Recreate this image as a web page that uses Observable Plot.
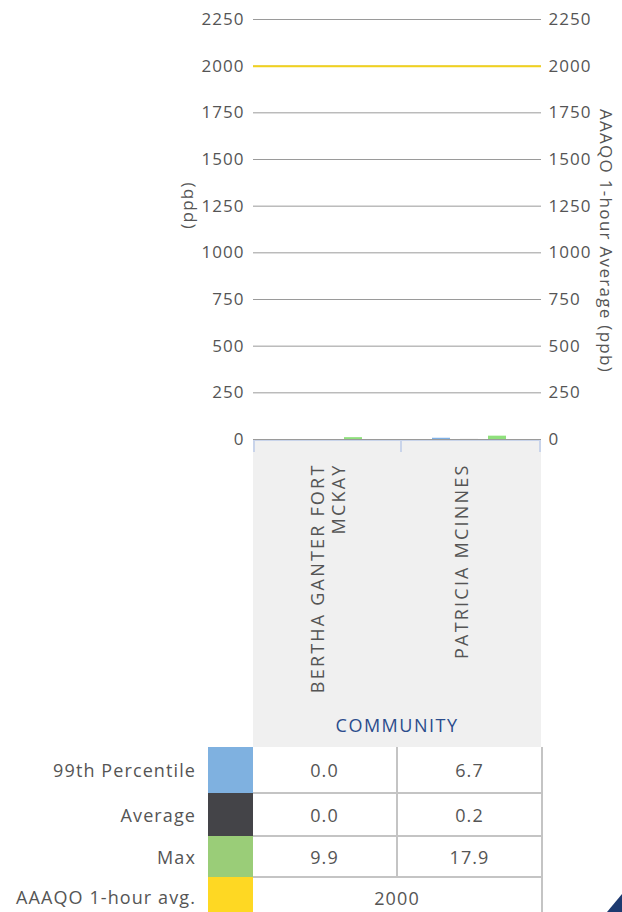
<!DOCTYPE html>
<html>
<head>
<meta charset="utf-8">
<script src="https://cdn.jsdelivr.net/npm/d3@7"></script>
<script src="https://cdn.jsdelivr.net/npm/@observablehq/plot@0.6"></script>
<style>
  html, body { margin: 0; padding: 0; background: #fff; }
  #wrap { position: relative; width: 622px; height: 912px; overflow: hidden; font-family: "Open Sans", sans-serif; color: #555; }
  #chart { position: absolute; left: 0; top: 0; }
  #catbox { position: absolute; left: 253px; top: 441px; width: 288px; height: 306px; background: #f0f0f0; }
  #catline { position: absolute; left: 253px; top: 439px; width: 288px; height: 2px; background: #c9d4ea; }
  .vtick { position: absolute; top: 439px; width: 2px; height: 13px; background: #c9d4ea; }
  .title { position: absolute; white-space: nowrap; font-size: 17px; letter-spacing: 1.3px; color: #555; }
  #community { position: absolute; left: 253px; width: 288px; top: 713px; text-align: center; font-size: 18px; letter-spacing: 1.5px; color: #2b4c8c; }
  table { position: absolute; left: 0; top: 747px; border-collapse: collapse; font-size: 18px; letter-spacing: 1.1px; color: #555; }
  td { padding: 0; }
  td.lab { width: 196px; padding-right: 12px; text-align: right; }
  td.sw { width: 45px; }
  td.val { width: 143px; text-align: center; border-bottom: 2px solid #c4c4c4; border-right: 2px solid #c4c4c4; }
  #tri { position: absolute; right: 0; bottom: 0; width: 0; height: 0; border-left: 15px solid transparent; border-bottom: 18px solid #1d3a70; }
</style>
</head>
<body>
<div id="wrap">
  <div id="catbox"></div>
  <div id="catline"></div>
  <div class="vtick" style="left:253px"></div>
  <div class="vtick" style="left:400px"></div>
  <div class="vtick" style="left:539px"></div>
  <div id="chart"></div>
  <div class="title" id="ltitle">(ppb)</div>
  <div class="title" id="rtitle">AAAQO 1-hour Average (ppb)</div>
  <div id="community">COMMUNITY</div>
  <table id="tbl"></table>
  <div id="tri"></div>
</div>
<script>
// ---- data ----
const communities = ["BERTHA GANTER FORT MCKAY", "PATRICIA MCINNES"];
const communityLabels = ["BERTHA GANTER FORT\nMCKAY", "PATRICIA MCINNES"];
const seriesNames = ["99th Percentile", "Average", "Max"];
const p99Values = [0.0, 6.7];
const averageValues = [0.0, 0.2];
const maxValues = [9.9, 17.9];
const aaaqoLimit = 2000;
const aaaqoLabel = "AAAQO 1-hour avg.";
const yTicks = [0, 250, 500, 750, 1000, 1250, 1500, 1750, 2000, 2250];

const barColors = ["#7eb0e6", "#434347", "#8fe07c"];
const swatchColors = ["#7fb1e0", "#444448", "#9acd78", "#fed823"];

// ---- build table for plot ----
const seriesValues = [p99Values, averageValues, maxValues];
const rows = [];
communities.forEach((c, i) => {
  seriesNames.forEach((s, j) => rows.push({community: c, series: s, value: seriesValues[j][i]}));
});

const font = "Open Sans, sans-serif";
const chart = Plot.plot({
  width: 622,
  height: 747,
  marginLeft: 253,
  marginRight: 81,
  marginTop: 19,
  marginBottom: 308,
  style: {fontFamily: font, fontSize: "17px", color: "#555", background: "transparent"},
  fx: {domain: communities, padding: 0, axis: null},
  x: {domain: seriesNames, paddingInner: 0.37, paddingOuter: 1.2, axis: null},
  y: {domain: [0, 2250], axis: null},
  color: {domain: seriesNames, range: barColors},
  marks: [
    Plot.gridY(yTicks, {stroke: "#9a9a9a", strokeOpacity: 1}),
    Plot.axisY(yTicks, {anchor: "left", tickSize: 0, tickPadding: 9, tickFormat: d => String(d), label: null, fill: "#555", fontSize: 17}),
    Plot.axisY(yTicks, {anchor: "right", tickSize: 0, tickPadding: 7, tickFormat: d => String(d), label: null, fill: "#555", fontSize: 17}),
    Plot.ruleY([aaaqoLimit], {stroke: "#f2d21c", strokeWidth: 2}),
    Plot.barY(rows, {fx: "community", x: "series", y: "value", fill: "series"}),
    Plot.text(communities, {
      fx: d => d,
      text: (d, i) => communityLabels[i],
      frameAnchor: "bottom",
      dx: -17,
      dy: 24,
      rotate: -90,
      textAnchor: "end",
      lineAnchor: "top",
      lineHeight: 1.2,
      fill: "#555",
      fontSize: 18
    })
  ]
});
d3.select(chart).selectAll("g[aria-label='y-axis tick label'] text").style("letter-spacing", "1px");
d3.select(chart).selectAll("g[aria-label='text'] text").style("letter-spacing", "2.2px");
document.getElementById("chart").appendChild(chart);

// axis titles positioned beside the chart
const lt = document.getElementById("ltitle");
lt.style.left = "186px"; lt.style.top = "205px";
lt.style.transform = "translate(-50%,-50%) rotate(-90deg)";
const rt = document.getElementById("rtitle");
rt.style.left = "606px"; rt.style.top = "241px";
rt.style.transform = "translate(-50%,-50%) rotate(90deg)";

// ---- data table ----
const tbl = document.getElementById("tbl");
const heights = [46, 43, 41, 40];
seriesNames.forEach((s, j) => {
  const tr = document.createElement("tr");
  tr.style.height = heights[j] + "px";
  tr.innerHTML = `<td class="lab">${s}</td><td class="sw" style="background:${swatchColors[j]}"></td>` +
    seriesValues[j].map(v => `<td class="val">${v.toFixed(1)}</td>`).join("");
  tbl.appendChild(tr);
});
const tr = document.createElement("tr");
tr.style.height = heights[3] + "px";
tr.innerHTML = `<td class="lab">${aaaqoLabel}</td><td class="sw" style="background:${swatchColors[3]}"></td><td class="val" colspan="2" style="border-bottom:none">${aaaqoLimit}</td>`;
tbl.appendChild(tr);
</script>
</body>
</html>
